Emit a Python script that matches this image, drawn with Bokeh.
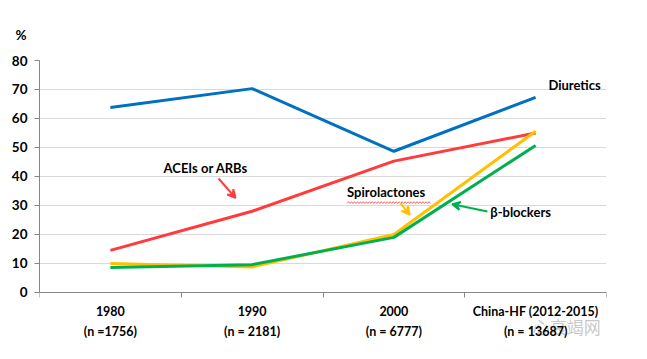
from bokeh.plotting import figure
from bokeh.models import Range1d, FixedTicker, Label, Arrow, VeeHead, Title
from bokeh.core.properties import value
from bokeh.embed import file_html
from bokeh.resources import INLINE

categories = ["1980\n(n =1756)", "1990\n(n = 2181)", "2000\n(n = 6777)", "China-HF (2012-2015)\n(n = 13687)"]
diuretics = [63.8, 70.3, 48.7, 67.3]
aceis_arbs = [14.5, 28.0, 45.3, 55.0]
spirolactones = [10.0, 8.8, 20.0, 55.6]
beta_blockers = [8.6, 9.6, 19.0, 50.7]
y_ticks = [0, 10, 20, 30, 40, 50, 60, 70, 80]

FONT = "Lato"
n = len(categories)
xs = [i + 0.5 for i in range(n)]

p = figure(width=631, height=343, output_backend="svg", toolbar_location=None,
           x_range=Range1d(0, n), y_range=Range1d(-17.6, 80),
           min_border_left=39, min_border_right=25, min_border_top=60, min_border_bottom=0)
p.outline_line_color = None
p.background_fill_color = "white"
p.border_fill_color = "white"

p.xgrid.grid_line_color = None
p.ygrid.grid_line_color = "#D9D9D9"
p.ygrid.ticker = FixedTicker(ticks=y_ticks[1:])

p.yaxis.ticker = FixedTicker(ticks=y_ticks)
p.yaxis.bounds = (0, 80)
p.yaxis.axis_line_color = "#868686"
p.yaxis.major_tick_line_color = "#868686"
p.yaxis.major_tick_out = 5
p.yaxis.major_tick_in = 0
p.yaxis.minor_tick_line_color = None
p.yaxis.major_label_text_font = FONT
p.yaxis.major_label_text_font_style = "bold"
p.yaxis.major_label_text_font_size = "13.5px"
p.yaxis.major_label_text_color = "#000000"
p.yaxis.major_label_standoff = 7

xa = p.xaxis[0]
xa.fixed_location = 0
xa.ticker = FixedTicker(ticks=xs, minor_ticks=list(range(n + 1)))
xa.major_label_overrides = {x: c for x, c in zip(xs, categories)}
xa.major_label_text_font = FONT
xa.major_label_text_font_style = "bold"
xa.major_label_text_font_size = "12.5px"
xa.major_label_text_color = "#000000"
xa.major_label_text_line_height = 1.3
xa.major_label_standoff = 6
xa.axis_line_color = "#868686"
xa.major_tick_line_color = None
xa.minor_tick_line_color = "#868686"
xa.minor_tick_out = 5
xa.minor_tick_in = 0

series = [(diuretics, "#0070C0"), (aceis_arbs, "#FF3B3B"), (spirolactones, "#FFC000"), (beta_blockers, "#00B050")]
for vals, col in series:
    p.line(xs, vals, line_color=col, line_width=3)

p.add_layout(Title(text="%", align="left", offset=-24, standoff=36, text_font=FONT,
                   text_font_style="bold", text_font_size="13.5px", text_color="#000000"), "above")

def lab(x, y, t, size="13px", color="#000000"):
    p.add_layout(Label(x=x, y=y, text=t, text_font=FONT, text_font_style="bold", text_font_size=size,
                       text_color=color, text_align="left", text_baseline="middle"))

lab(3.59, 71.4, "Diuretics")
lab(0.875, 42.8, "ACEIs or ARBs")
lab(2.17, 34.5, "Spirolactones")
lab(3.18, 27.8, "β-blockers")

# spell-check squiggle under Spirolactones
wx = [2.17 + i * 0.0105 for i in range(57)]
wy = [31.0 + (0.3 if i % 2 else -0.3) for i in range(57)]
p.line(wx, wy, line_color="#FF3B3B", line_width=0.8)

p.add_layout(Arrow(x_start=1.263, y_start=39.3, x_end=1.383, y_end=32.6,
                   line_color="#FF3B3B", line_width=2,
                   end=VeeHead(size=8, line_color="#FF3B3B", fill_color="#FF3B3B", line_width=2)))
p.add_layout(Arrow(x_start=2.547, y_start=30.7, x_end=2.612, y_end=26.8,
                   line_color="#FFC000", line_width=2,
                   end=VeeHead(size=8, line_color="#FFC000", fill_color="#FFC000", line_width=2)))
p.add_layout(Arrow(x_start=3.16, y_start=27.9, x_end=2.912, y_end=30.4,
                   line_color="#00B050", line_width=2,
                   end=VeeHead(size=8, line_color="#00B050", fill_color="#00B050", line_width=2)))

# watermark
p.text(x=[3.72], y=[-11.8], text=["心衰竭网"], text_font=value("Noto Sans CJK SC"), text_font_size="17px",
       text_color="#BDBDBD", text_alpha=0.85, text_align="center", text_baseline="middle")

open("out.html", "w").write(file_html(p, INLINE))
